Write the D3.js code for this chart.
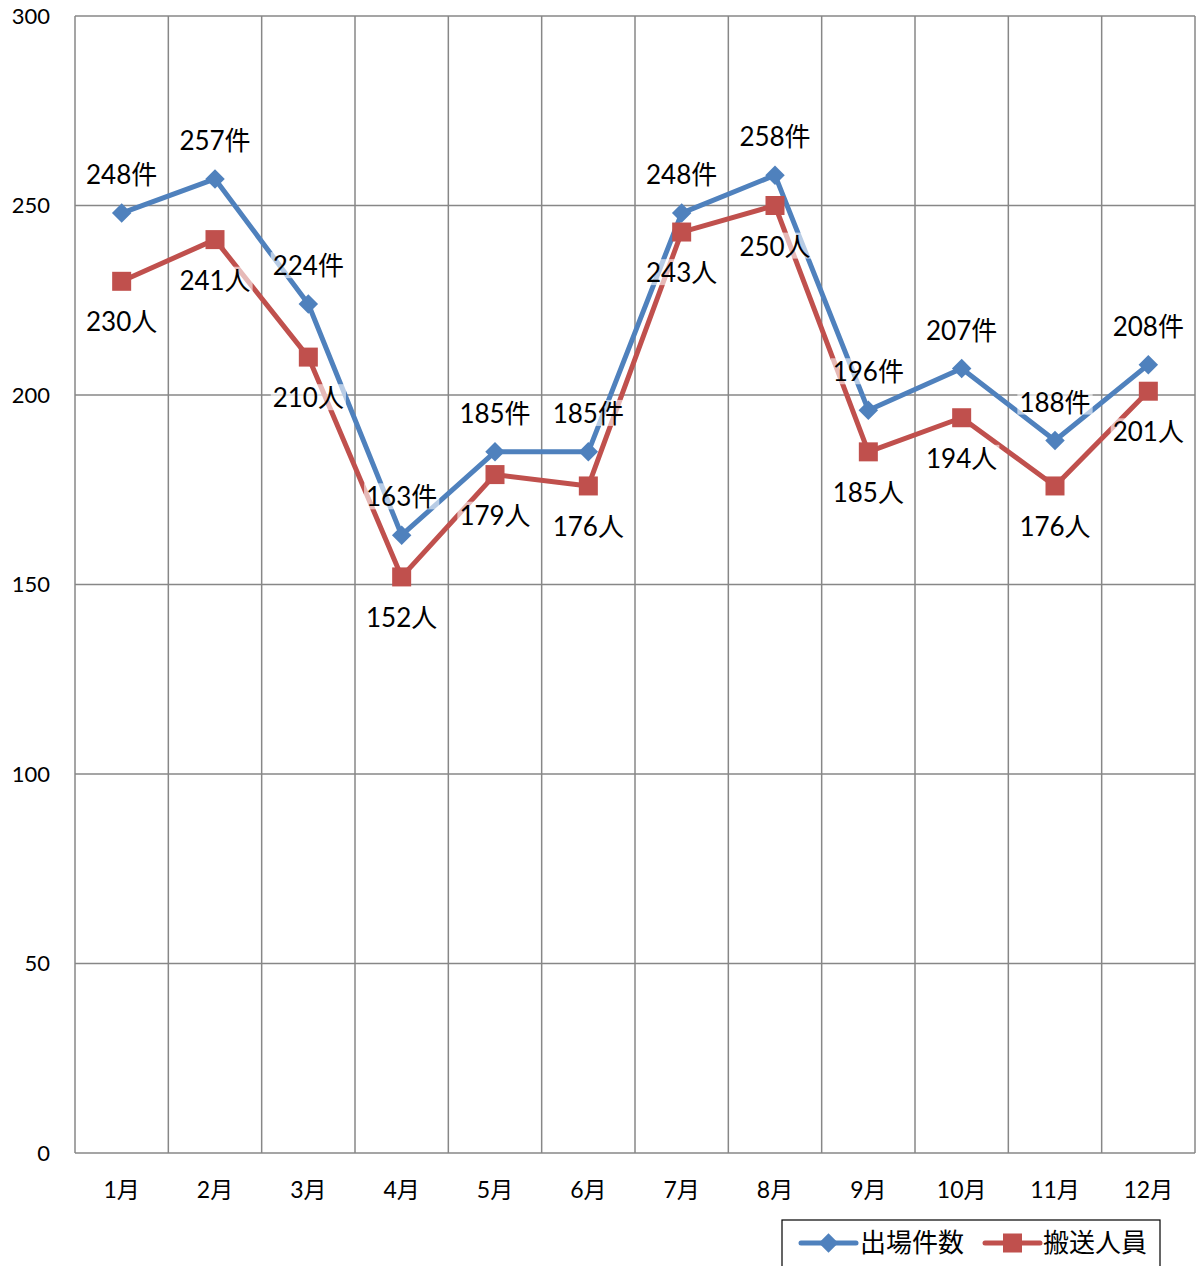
<!DOCTYPE html>
<html>
<head>
<meta charset="utf-8">
<script src="https://cdn.jsdelivr.net/npm/d3@7"></script>
<style>
  body { margin: 0; background: #fff; }
  svg { display: block; }
</style>
</head>
<body>
<svg id="chart" width="1202" height="1266"></svg>
<script>
const months = ["1月", "2月", "3月", "4月", "5月", "6月", "7月", "8月", "9月", "10月", "11月", "12月"];
const dispatches = [248, 257, 224, 163, 185, 185, 248, 258, 196, 207, 188, 208];
const transported = [230, 241, 210, 152, 179, 176, 243, 250, 185, 194, 176, 201];
const yTicks = [0, 50, 100, 150, 200, 250, 300];

const width = 1202;
const height = 1266;
const margin = { top: 16, right: 7, bottom: 113, left: 75 };
const fontFamily = "Lato, 'Noto Sans CJK JP', sans-serif";
const blue = "#4f81bd";
const red = "#c0504d";
const gridColor = "#878787";

const svg = d3.select("#chart");

const x = d3.scaleBand()
  .domain(months)
  .range([margin.left, width - margin.right]);

const y = d3.scaleLinear()
  .domain([0, 300])
  .range([height - margin.bottom, margin.top]);

const cx = d => x(d) + x.bandwidth() / 2;

// === Grid ===
const grid = svg.append("g").attr("stroke", gridColor).attr("stroke-width", 1.5);

grid.selectAll("line.h")
  .data(yTicks)
  .join("line")
  .attr("class", "h")
  .attr("x1", margin.left)
  .attr("x2", width - margin.right)
  .attr("y1", d => y(d))
  .attr("y2", d => y(d));

const vBounds = months.map(m => x(m)).concat([width - margin.right]);
grid.selectAll("line.v")
  .data(vBounds)
  .join("line")
  .attr("class", "v")
  .attr("x1", d => d)
  .attr("x2", d => d)
  .attr("y1", y(300))
  .attr("y2", y(0));

// === Y axis labels ===
svg.append("g")
  .selectAll("text")
  .data(yTicks)
  .join("text")
  .attr("x", 50)
  .attr("y", d => y(d))
  .attr("dy", "0.35em")
  .attr("text-anchor", "end")
  .attr("font-family", fontFamily)
  .attr("font-size", "22px")
  .attr("fill", "#000")
  .text(d => d);

// === X axis labels ===
svg.append("g")
  .selectAll("text")
  .data(months)
  .join("text")
  .attr("x", d => cx(d))
  .attr("y", y(0) + 37)
  .attr("dy", "0.35em")
  .attr("text-anchor", "middle")
  .attr("font-family", fontFamily)
  .attr("font-size", "23px")
  .attr("fill", "#000")
  .text(d => d);

// === Lines ===
const series = [
  { name: "出場件数", values: dispatches, color: blue, marker: "diamond", unit: "件", offset: -38 },
  { name: "搬送人員", values: transported, color: red, marker: "square", unit: "人", offset: 41 }
];

const line = d3.line()
  .x((v, i) => cx(months[i]))
  .y(v => y(v));

series.forEach(s => {
  svg.append("path")
    .datum(s.values)
    .attr("fill", "none")
    .attr("stroke", s.color)
    .attr("stroke-width", 5)
    .attr("stroke-linejoin", "round")
    .attr("d", line);
});

const drawMarker = (g, type, color, px, py, size) => {
  if (type === "diamond") {
    g.append("path")
      .attr("d", d3.symbol(d3.symbolDiamond2, size * size * 0.5)())
      .attr("transform", `translate(${px},${py})`)
      .attr("fill", color);
  } else {
    g.append("rect")
      .attr("x", px - size / 2)
      .attr("y", py - size / 2)
      .attr("width", size)
      .attr("height", size)
      .attr("fill", color);
  }
};

series.forEach(s => {
  const g = svg.append("g");
  s.values.forEach((v, i) => {
    drawMarker(g, s.marker, s.color, cx(months[i]), y(v), s.marker === "diamond" ? 22 : 19);
  });
});

// === Data labels (with translucent white backing) ===
series.forEach(s => {
  const g = svg.append("g");
  s.values.forEach((v, i) => {
    const lx = cx(months[i]);
    const ly = y(v) + s.offset;
    const t = g.append("text")
      .attr("x", lx)
      .attr("y", ly)
      .attr("dy", "0.35em")
      .attr("text-anchor", "middle")
      .attr("font-family", fontFamily)
      .attr("font-size", "26px")
      .attr("fill", "#000")
      .text(v + s.unit);
    const bb = t.node().getBBox();
    g.insert("rect", () => t.node())
      .attr("x", bb.x - 2)
      .attr("y", bb.y + 3)
      .attr("width", bb.width + 4)
      .attr("height", bb.height - 6)
      .attr("fill", "#fff")
      .attr("fill-opacity", 0.6);
  });
});

// === Legend ===
const legend = svg.append("g");
legend.append("rect")
  .attr("x", 782)
  .attr("y", 1220)
  .attr("width", 378)
  .attr("height", 60)
  .attr("fill", "#fff")
  .attr("stroke", "#000")
  .attr("stroke-width", 1.2);

const legendItems = [
  { s: series[0], x0: 801, textX: 860 },
  { s: series[1], x0: 985, textX: 1043 }
];
legendItems.forEach(({ s, x0, textX }) => {
  const ly = 1243;
  legend.append("line")
    .attr("x1", x0)
    .attr("x2", x0 + 55)
    .attr("y1", ly)
    .attr("y2", ly)
    .attr("stroke", s.color)
    .attr("stroke-width", 5)
    .attr("stroke-linecap", "round");
  drawMarker(legend, s.marker, s.color, x0 + 27.5, ly, s.marker === "diamond" ? 22 : 19);
  legend.append("text")
    .attr("x", textX)
    .attr("y", ly)
    .attr("dy", "0.35em")
    .attr("font-family", fontFamily)
    .attr("font-size", "26px")
    .attr("fill", "#000")
    .text(s.name);
});
</script>
</body>
</html>
